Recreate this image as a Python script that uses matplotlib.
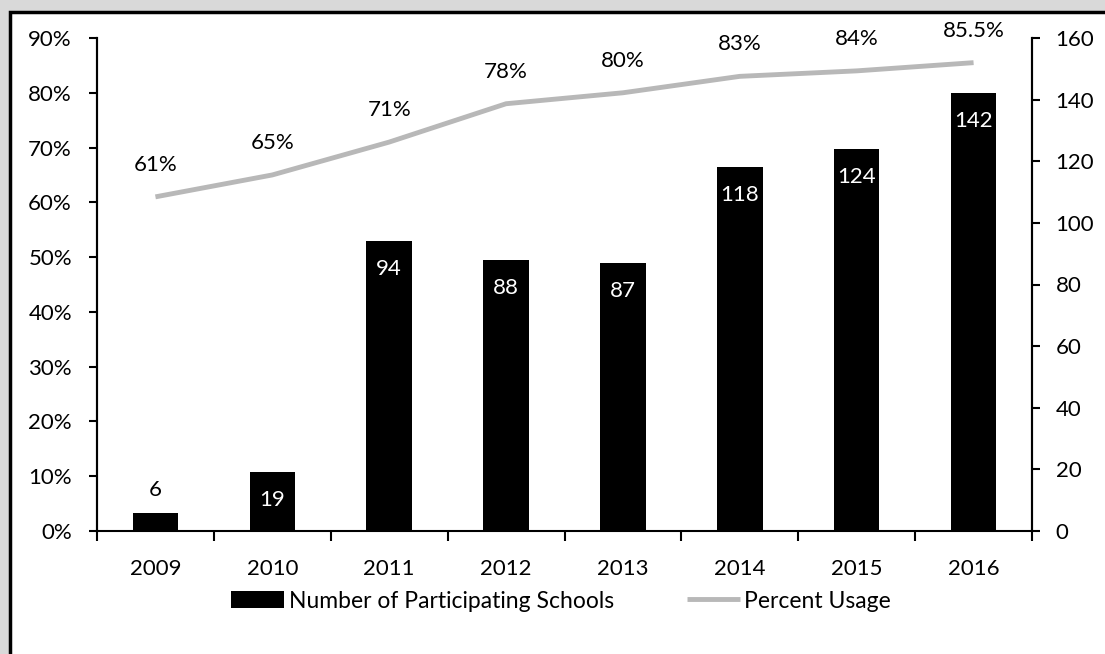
import numpy as np
import matplotlib
matplotlib.use("Agg")
import matplotlib.pyplot as plt
from matplotlib.patches import Rectangle
from matplotlib.ticker import FuncFormatter, MultipleLocator

# ------------------------------------------------------------
# Data
# ------------------------------------------------------------

years = ["2009", "2010", "2011", "2012", "2013", "2014", "2015", "2016"]
schools = [6, 19, 94, 88, 87, 118, 124, 142]
usage = [61, 65, 71, 78, 80, 83, 84, 85.5]
usage_labels = ["61%", "65%", "71%", "78%", "80%", "83%", "84%", "85.5%"]

plt.rcParams["font.family"] = ["Lato", "DejaVu Sans"]
FS = 16

fig = plt.figure(figsize=(11.05, 6.54), dpi=100)
fig.patch.set_facecolor("#d9d9d9")

# white card with black border (scanned page look)
fig.patches.append(Rectangle((10 / 1105, -0.1), 1.1, 1.1 - 12 / 654,
                             transform=fig.transFigure, facecolor="white",
                             edgecolor="black", linewidth=2.5, zorder=-5))

ax = fig.add_axes([97 / 1105, 1 - 531 / 654, (1032 - 97) / 1105, (531 - 38) / 654])
ax2 = ax.twinx()
ax.set_zorder(ax2.get_zorder() + 1)
ax.patch.set_visible(False)

x = np.arange(len(years))

# bars on right axis
bars = ax2.bar(x, schools, width=0.39, color="black", zorder=2)
for xi, v in zip(x, schools):
    if v < 10:
        ax2.annotate(str(v), (xi, v), xytext=(0, 23), textcoords="offset pixels",
                     ha="center", va="center", fontsize=FS, color="black")
    else:
        ax2.annotate(str(v), (xi, v), xytext=(0, -28), textcoords="offset pixels",
                     ha="center", va="center", fontsize=FS, color="white")

# percent line on left axis
line, = ax.plot(x, usage, color="#b8b8b8", linewidth=3.5, solid_capstyle="butt", zorder=3)
for xi, v, lab in zip(x, usage, usage_labels):
    ax.annotate(lab, (xi, v), xytext=(0, 32), textcoords="offset pixels",
                ha="center", va="center", fontsize=FS, color="black")

ax.set_xlim(-0.5, len(years) - 0.5)
ax.set_ylim(0, 90)
ax2.set_ylim(0, 160)

ax.yaxis.set_major_locator(MultipleLocator(10))
ax.yaxis.set_major_formatter(FuncFormatter(lambda v, p: f"{v:.0f}%"))
ax2.yaxis.set_major_locator(MultipleLocator(20))

ax.set_xticks(x)
ax.set_xticklabels(years)
ax.set_xticks(np.arange(-0.5, len(years), 1.0), minor=True)
ax.tick_params(axis="x", which="major", length=0, pad=20, labelsize=FS)
ax.tick_params(axis="x", which="minor", length=7, width=1.5, direction="out")
ax.tick_params(axis="y", length=6, width=1.5, direction="out", labelsize=FS, pad=12)
ax2.tick_params(axis="y", length=6, width=1.5, direction="out", labelsize=FS, pad=11)

for a in (ax, ax2):
    a.spines["top"].set_visible(False)
    for s in ("left", "right", "bottom"):
        a.spines[s].set_linewidth(1.5)
ax2.spines["bottom"].set_visible(False)

handles = [bars, line]
labels = ["Number of Participating Schools", "Percent Usage"]
fig.legend(handles, labels, loc="center", bbox_to_anchor=(0.508, 1 - 601 / 654),
           ncol=2, frameon=False, fontsize=16.5, handlelength=2.3,
           columnspacing=3.2, handletextpad=0.2)

fig.savefig("out.png", dpi=100, facecolor=fig.get_facecolor())
